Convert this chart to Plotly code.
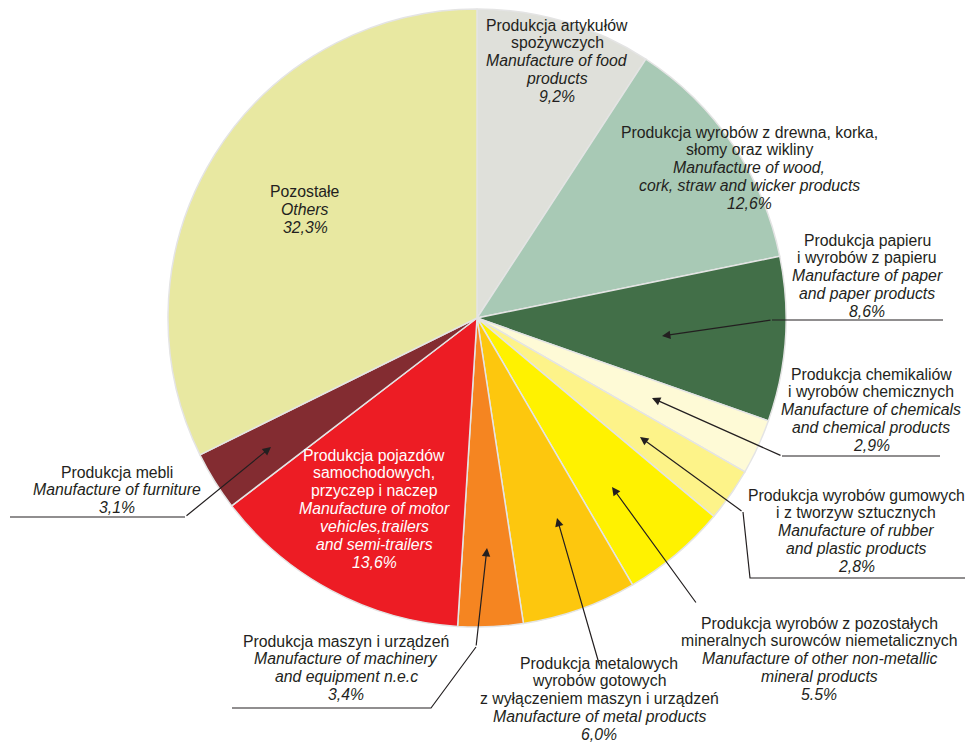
import plotly.graph_objects as go

W, H = 973, 743
OFF = 8  # page body margin in the browser

categories_pl = [
    ["Produkcja artykułów", "spożywczych"],
    ["Produkcja wyrobów z drewna, korka,", "słomy oraz wikliny"],
    ["Produkcja papieru", "i wyrobów z papieru"],
    ["Produkcja chemikaliów", "i wyrobów chemicznych"],
    ["Produkcja wyrobów gumowych", "i z tworzyw sztucznych"],
    ["Produkcja wyrobów z pozostałych", "mineralnych surowców niemetalicznych"],
    ["Produkcja metalowych", "wyrobów gotowych", "z wyłączeniem maszyn i urządzeń"],
    ["Produkcja maszyn i urządzeń"],
    ["Produkcja pojazdów", "samochodowych,", "przyczep i naczep"],
    ["Produkcja mebli"],
    ["Pozostałe"],
]
categories_en = [
    ["Manufacture of food", "products"],
    ["Manufacture of wood,", "cork, straw and wicker products"],
    ["Manufacture of paper", "and paper products"],
    ["Manufacture of chemicals", "and chemical products"],
    ["Manufacture of rubber", "and plastic products"],
    ["Manufacture of other non-metallic", "mineral products"],
    ["Manufacture of metal products"],
    ["Manufacture of machinery", "and equipment n.e.c"],
    ["Manufacture of motor", "vehicles,trailers", "and semi-trailers"],
    ["Manufacture of furniture"],
    ["Others"],
]
values = [9.2, 12.6, 8.6, 2.9, 2.8, 5.5, 6.0, 3.4, 13.6, 3.1, 32.3]
value_labels = ["9,2%", "12,6%", "8,6%", "2,9%", "2,8%", "5.5%", "6,0%", "3,4%", "13,6%", "3,1%", "32,3%"]

colors = ["#DFE0DA", "#A8C9B5", "#426F48", "#FEFAD6", "#FDF389", "#FFF200",
          "#FDC70E", "#F58521", "#ED1C24", "#832C31", "#E8E8A1"]

# label layout: centre x and first-line y (pixels) and text colours
label_pos = [(557, 25), (749, 132), (867, 240), (871, 374), (856, 495), (819, 623),
             (599, 663), (346, 641), (374, 455), (117, 472), (305, 192)]
label_col = ["#231F20"] * 8 + ["#FFFFFF", "#231F20", "#231F20"]
LINE = 17.9
FONT = "Arial, Liberation Sans, sans-serif"
FS = 15.8

cx, cy, r = 477, 318, 309


def px(x):
    return (x - OFF) / W


def py(y):
    return 1 - (y - OFF) / H


fig = go.Figure(go.Pie(
    values=values,
    labels=[" ".join(c) for c in categories_pl],
    marker=dict(colors=colors, line=dict(color="#E4E4E4", width=1.5)),
    sort=False, direction="clockwise", rotation=0,
    textinfo="none", hoverinfo="skip", showlegend=False,
    domain=dict(x=[px(cx - r), px(cx + r)], y=[py(cy + r), py(cy - r)]),
))

annotations = []
for pl, en, vl, (x, y0), col in zip(categories_pl, categories_en, value_labels, label_pos, label_col):
    lines = pl + [f"<i>{s}</i>" for s in en] + [f"<i>{vl}</i>"]
    for k, s in enumerate(lines):
        annotations.append(dict(
            text=s, x=px(x), y=py(y0 + k * LINE), xref="paper", yref="paper",
            xanchor="center", yanchor="middle", showarrow=False, align="center",
            font=dict(family=FONT, size=FS, color=col),
        ))

# leader lines: polyline points (pixels), last point is the arrowhead
leaders = [
    [(943, 320), (772, 320), (662, 336)],              # paper
    [(940, 456), (782, 456), (652, 398)],              # chemicals
    [(973, 578), (750, 578), (743, 512), (640, 437)],  # rubber
    [(697, 604), (612, 487)],                          # non-metallic
    [(600, 667), (557, 518)],                          # metal
    [(232, 708), (431, 708), (476, 647), (487, 548)],  # machinery
    [(10, 517), (185, 517), (271, 447)],               # furniture
]
shapes = []
for pts in leaders:
    if len(pts) > 2:
        path = "M " + " L ".join(f"{px(x)},{py(y)}" for x, y in pts[:-1])
        shapes.append(dict(type="path", path=path, xref="paper", yref="paper",
                           line=dict(color="#231F20", width=1.2)))
    (x0, y0), (x1, y1) = pts[-2], pts[-1]
    annotations.append(dict(
        text="", x=px(x1), y=py(y1), xref="paper", yref="paper",
        ax=x0 - x1, ay=y0 - y1, showarrow=True, arrowhead=2, arrowsize=1.4,
        arrowwidth=1.2, arrowcolor="#231F20", standoff=0, startstandoff=0,
    ))

fig.update_layout(
    width=W, height=H,
    margin=dict(l=0, r=0, t=0, b=0),
    paper_bgcolor="white", plot_bgcolor="white",
    annotations=annotations, shapes=shapes,
)

fig.write_html("out.html")
